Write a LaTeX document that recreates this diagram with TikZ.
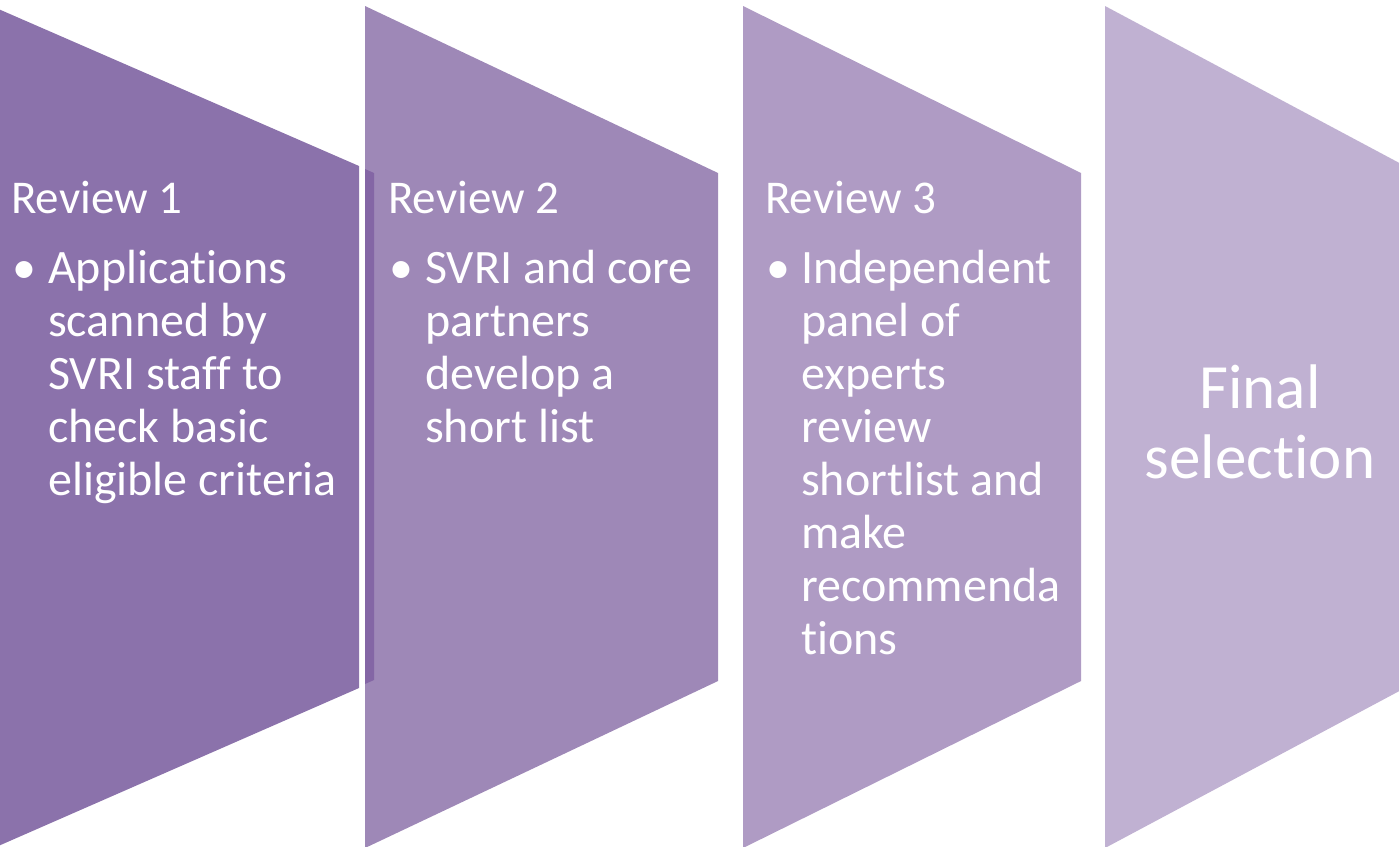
\documentclass[tikz,border=0pt]{standalone}
\usepackage{fontspec}
\setmainfont[Ligatures={NoCommon}]{Carlito}
\definecolor{cA}{HTML}{8B72AB}
\definecolor{cB}{HTML}{9E88B7}
\definecolor{cC}{HTML}{AF9BC4}
\definecolor{cD}{HTML}{C0B1D2}
\definecolor{cS}{HTML}{8466A5}
\tikzset{
  titletext/.style={anchor=base west, inner sep=0pt, text=white, font=\fontsize{47}{52}\selectfont},
  bullettext/.style={anchor=base west, inner sep=0pt, text=white, font=\fontsize{48}{53}\selectfont},
  finaltext/.style={anchor=base, inner sep=0pt, text=white, font=\fontsize{63}{70}\selectfont, align=center},
}
\begin{document}
\begin{tikzpicture}[x=1pt, y=-1pt]
\useasboundingbox (0,0) rectangle (1399,846);
% chevron panels
\fill[cA] (-20,1) -- (359,166) -- (359,688) -- (-20,854) -- cycle;
\fill[cB] (365,6) -- (718,173) -- (718,681) -- (365,848) -- cycle;
\fill[cS] (365,169) -- (374,173) -- (374,680) -- (365,684) -- cycle;
\fill[cC] (743,6) -- (1081,173) -- (1081,681) -- (743,848) -- cycle;
\fill[cD] (1105,6) -- (1420,174) -- (1420,680) -- (1105,848) -- cycle;
% column 1
\node[titletext] (t1) at (11,213) {Review 1};
\node[bullettext] (b1) at (12,283) {•};
\node[bullettext] (x1) at (48,283) {\parbox[t]{320pt}{\raggedright Applications\\scanned by\\SVRI staff to\\check basic\\eligible criteria}};
% column 2
\node[titletext] (t2) at (388,213) {Review 2};
\node[bullettext] (b2) at (389,283) {•};
\node[bullettext] (x2) at (425,283) {\parbox[t]{300pt}{\raggedright SVRI and core\\partners\\develop a\\short list}};
% column 3
\node[titletext] (t3) at (765,213) {Review 3};
\node[bullettext] (b3) at (766,283) {•};
\node[bullettext] (x3) at (801,283) {\parbox[t]{300pt}{\raggedright Independent\\panel of\\experts\\review\\shortlist and\\make\\recommenda\\tions}};
% column 4
\node[finaltext] (f4) at (1260,408) {\parbox[t]{300pt}{\centering Final\\selection}};
\end{tikzpicture}
\end{document}
